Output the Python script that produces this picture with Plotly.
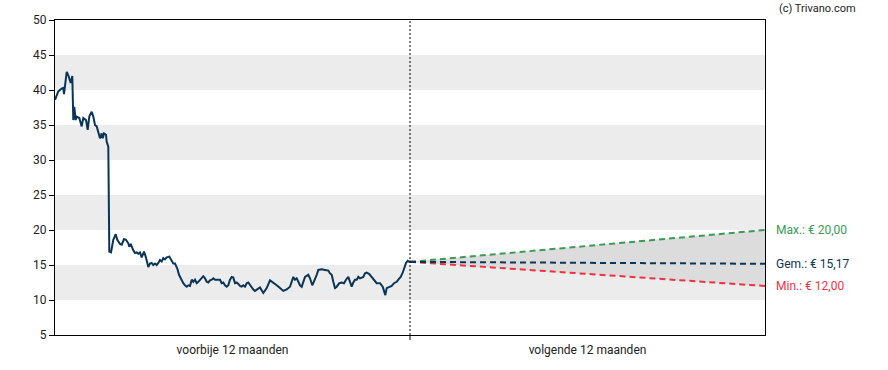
import plotly.graph_objects as go

# time index (arbitrary units, past year 0..355, next year 355..710)
past_t = [0, 3.3, 6.7, 8.3, 9, 11.7, 13.3, 15.7, 17.3, 18.3, 19.3, 20.7, 21.7, 24.3, 26.7, 28.3,
          31, 32.7, 34.3, 36.7, 38.3, 40, 41.7, 43.3, 45, 46.7, 47.7, 49, 51, 51.7, 53.3,
          54.3, 56, 58.3, 60.7, 62.3, 65, 66.7, 69, 71, 73.3, 74.3, 75.7, 78.3, 80, 81.7,
          83.3, 85, 86.7, 89, 90.7, 93.3, 95, 96.7, 98.3, 100, 101.7, 103.3, 105, 106.7,
          108.3, 110, 111.7, 114.3, 116.7, 118.3, 120, 122.3, 124, 125, 126.7, 128.3, 130,
          131.7, 133.3, 135, 136.7, 138.3, 140, 141.7, 143.3, 145, 146.7, 148.3, 150, 151.7,
          153.3, 155, 156.7, 158.3, 160, 161.7, 163.3, 165, 166.7, 168.3, 170, 171.7, 173.3,
          175, 176.7, 178.3, 180, 181.7, 183.3, 185, 186.7, 188.3, 190, 191.7, 193.3, 195,
          196.7, 198.3, 200, 201.7, 203.3, 205, 208.3, 211.7, 215, 218.3, 221.7, 225, 228.3,
          231.7, 235, 238.3, 240, 241.7, 245, 246.7, 250, 253.3, 255, 257.3, 260, 261.7,
          263.3, 266.7, 270, 273.3, 275, 276.7, 278.3, 280, 281.7, 284.3, 286.7, 289, 291,
          293.3, 295, 296.7, 298.3, 300, 301.7, 303.3, 305, 308.3, 310, 311.7, 314.3, 316.7,
          319, 321.7, 325, 327.7, 329, 330.3, 331.7, 334.3, 336.7, 339, 341.7, 343.3, 345.7,
          347.7, 349.3, 351, 352.7, 355]
past_price = [38.6, 39.8, 40.2, 40.3, 39.4, 42.6, 42.1, 41.0, 42.0, 35.7, 37.6, 35.7, 36.2, 36.0,
              34.8, 36.0, 35.7, 34.3, 36.2, 36.9, 36.2, 35.0, 34.8, 34.0, 33.1, 33.8, 33.1,
              33.8, 33.6, 32.6, 31.9, 16.9, 16.8, 18.6, 19.4, 18.6, 18.0, 17.9, 18.7, 18.6,
              18.1, 17.6, 18.0, 17.1, 16.7, 16.8, 16.6, 16.8, 16.1, 16.9, 16.2, 14.7, 15.2,
              15.3, 15.0, 15.2, 15.0, 15.3, 15.7, 15.5, 16.0, 15.8, 16.1, 16.2, 15.7, 15.2,
              15.2, 14.5, 13.6, 13.3, 12.8, 12.4, 12.1, 11.9, 12.1, 12.0, 12.9, 12.6, 12.9,
              12.4, 12.6, 12.9, 13.1, 13.4, 13.1, 12.6, 12.5, 12.8, 12.9, 13.1, 12.9, 12.9,
              12.8, 12.9, 12.4, 12.5, 12.1, 11.9, 12.1, 12.9, 13.3, 13.2, 12.4, 12.5, 12.3,
              12.0, 11.9, 12.1, 11.9, 12.4, 12.5, 12.1, 11.8, 11.5, 11.3, 11.5, 11.7, 11.8,
              11.0, 11.7, 12.8, 12.5, 12.1, 11.7, 11.3, 11.5, 11.9, 13.3, 12.9, 13.1, 12.1,
              11.9, 13.3, 13.6, 13.1, 12.1, 12.9, 13.6, 14.3, 14.4, 14.3, 14.2, 13.8, 13.6,
              12.6, 11.7, 11.9, 12.4, 12.5, 12.4, 12.9, 13.3, 12.6, 11.9, 12.5, 12.9, 12.9,
              13.3, 13.1, 13.3, 13.8, 13.9, 13.7, 13.3, 12.9, 12.4, 12.4, 11.9, 11.3, 10.7,
              11.7, 11.8, 12.0, 12.4, 12.6, 12.9, 13.3, 13.9, 14.7, 15.3, 15.6, 15.4]

today_t = 355
end_t = 710
start_val = 15.45
target_max = 20.00
target_avg = 15.17
target_min = 12.00

past_label = "voorbije 12 maanden"
next_label = "volgende 12 maanden"
y_ticks = [5, 10, 15, 20, 25, 30, 35, 40, 45, 50]
bands = [(10, 15), (20, 25), (30, 35), (40, 45)]

NAVY = "#0b3556"
GREEN = "#3a9a55"
RED = "#f0313f"
FONT = "Roboto"

fig = go.Figure()

for lo, hi in bands:
    fig.add_shape(type="rect", xref="x", yref="y", x0=0, x1=end_t, y0=lo, y1=hi,
                  fillcolor="#ececec", line_width=0, layer="below")

fx = [today_t, end_t]
fig.add_trace(go.Scatter(x=fx, y=[start_val, target_min], mode="lines",
                         line=dict(width=0, color="rgba(0,0,0,0)"), hoverinfo="skip", showlegend=False))
fig.add_trace(go.Scatter(x=fx, y=[start_val, target_max], mode="lines", fill="tonexty",
                         fillcolor="#dcdcdc", line=dict(width=0, color="rgba(0,0,0,0)"),
                         hoverinfo="skip", showlegend=False))

fig.add_trace(go.Scatter(x=past_t, y=past_price, mode="lines",
                         line=dict(color=NAVY, width=2), showlegend=False))

for val, col in [(target_max, GREEN), (target_min, RED), (target_avg, NAVY)]:
    fig.add_trace(go.Scatter(x=fx, y=[start_val, val], mode="lines",
                             line=dict(color=col, width=2, dash="6px,4px"), showlegend=False))

fig.add_shape(type="line", xref="x", yref="paper", x0=today_t, x1=today_t, y0=0, y1=1,
              line=dict(color="black", width=1, dash="2px,2px"))

for val, col, txt in [(target_max, GREEN, "Max.: € 20,00"),
                      (target_avg, NAVY, "Gem.: € 15,17"),
                      (target_min, RED, "Min.: € 12,00")]:
    fig.add_annotation(x=1.012, xref="paper", y=val, yref="y", text=txt, showarrow=False,
                       xanchor="left", yanchor="middle", font=dict(family=FONT, size=12, color=col))

fig.add_annotation(x=(858 - 55) / 710, xref="paper", y=1 + 11 / 315, yref="paper",
                   text="(c) Trivano.com", showarrow=False, xanchor="right", yanchor="middle",
                   font=dict(family=FONT, size=11, color="#222"))

fig.update_layout(
    width=888, height=370,
    margin=dict(l=55, r=123, t=20, b=35),
    paper_bgcolor="white", plot_bgcolor="white",
    font=dict(family=FONT, size=12, color="#222"),
    xaxis=dict(range=[0, end_t], showgrid=False, zeroline=False, showline=True,
               linecolor="black", linewidth=1, mirror=True,
               tickvals=[today_t / 2, (today_t + end_t) / 2], ticktext=[past_label, next_label],
               ticks="", ticklabelstandoff=4, tickfont=dict(family=FONT, size=12, color="#222")),
    yaxis=dict(range=[5, 50], tickvals=y_ticks, showgrid=False, zeroline=False, showline=True,
               linecolor="black", linewidth=1, mirror=True, ticks="outside", ticklen=5,
               tickcolor="black", tickfont=dict(family=FONT, size=12, color="#222")),
)
# x tick mark at today
fig.add_shape(type="line", xref="x", yref="paper", x0=today_t, x1=today_t, y0=0, y1=-5 / 315,
              line=dict(color="black", width=1))

fig.write_html("out.html", config={"displayModeBar": False},
               post_script="document.body.style.margin='0';document.body.style.padding='0';")
